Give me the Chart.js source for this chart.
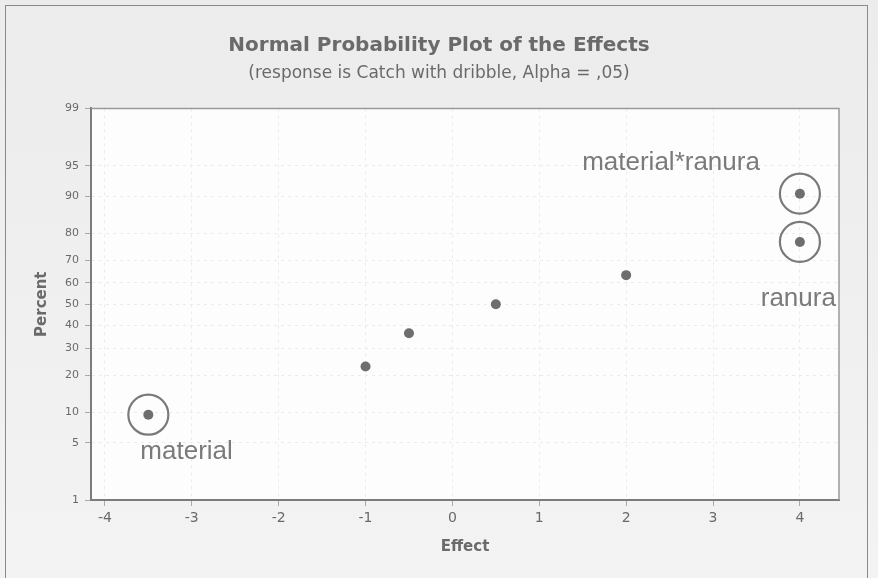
<!DOCTYPE html>
<html>
<head>
<meta charset="utf-8">
<script src="https://cdn.jsdelivr.net/npm/chart.js@4.4.1/dist/chart.umd.min.js"></script>
<style>
    html, body { margin: 0; padding: 0; background: #eeeeee; }
    #wrap { position: relative; width: 878px; height: 578px; }
    #frame { position: absolute; left: 5px; top: 5px; width: 861px; height: 580px; border: 1px solid #8a8a8a; pointer-events: none; }
</style>
</head>
<body>
<div id="wrap">
    <canvas id="chart" width="878" height="578"></canvas>
    <div id="frame"></div>
</div>
<script>
// Effects and their plotted percent (normal scores)
const effectNames   = ['material', '', '', '', '', 'ranura', 'material*ranura'];
const effectValues  = [-3.5, -1.0, -0.5, 0.5, 2.0, 4.0, 4.0];
const percentValues = [9.46, 22.97, 36.49, 50.0, 63.51, 77.03, 90.54];
const significant   = [true, false, false, false, false, true, true];

// Axis ticks
const xTicks = [-4, -3, -2, -1, 0, 1, 2, 3, 4];
const yTicks = [1, 5, 10, 20, 30, 40, 50, 60, 70, 80, 90, 95, 99];

const GRAY_TEXT = '#6a6a6a';
const DOT_COLOR = '#6e6e6e';
const FONT = '"DejaVu Sans", Verdana, sans-serif';

// Inverse standard normal CDF (Acklam)
function probit(p) {
    const a = [-39.6968302866538, 220.946098424521, -275.928510446969, 138.357751867269, -30.6647980661472, 2.50662827745924];
    const b = [-54.4760987982241, 161.585836858041, -155.698979859887, 66.8013118877197, -13.2806815528857];
    const c = [-0.00778489400243029, -0.322396458041136, -2.40075827716184, -2.54973253934373, 4.37466414146497, 2.93816398269878];
    const d = [0.00778469570904146, 0.32246712907004, 2.445134137143, 3.75440866190742];
    const pl = 0.02425;
    let q, r;
    if (p < pl) {
        q = Math.sqrt(-2 * Math.log(p));
        return (((((c[0]*q+c[1])*q+c[2])*q+c[3])*q+c[4])*q+c[5]) / ((((d[0]*q+d[1])*q+d[2])*q+d[3])*q+1);
    }
    if (p > 1 - pl) {
        q = Math.sqrt(-2 * Math.log(1 - p));
        return -(((((c[0]*q+c[1])*q+c[2])*q+c[3])*q+c[4])*q+c[5]) / ((((d[0]*q+d[1])*q+d[2])*q+d[3])*q+1);
    }
    q = p - 0.5;
    r = q * q;
    return (((((a[0]*r+a[1])*r+a[2])*r+a[3])*r+a[4])*r+a[5])*q / (((((b[0]*r+b[1])*r+b[2])*r+b[3])*r+b[4])*r+1);
}

const points = effectValues.map((x, i) => ({ x, y: probit(percentValues[i] / 100), name: effectNames[i] }));
const marked = points.filter((_, i) => significant[i]);

// label placement relative to the circled point: [dx, dy, align]
const labelOffsets = {
    'material':        [-8, 37, 'left'],
    'ranura':          [36, 57, 'right'],
    'material*ranura': [-40, -31, 'right'],
};

// Background, plot frame and effect labels
const decorPlugin = {
    id: 'decor',
    beforeDraw(chart) {
        const { ctx, chartArea: a } = chart;
        ctx.save();
        const g = ctx.createLinearGradient(0, 0, 0, chart.height);
        g.addColorStop(0, '#ececec');
        g.addColorStop(1, '#f3f3f3');
        ctx.fillStyle = g;
        ctx.fillRect(0, 0, chart.width, chart.height);
        ctx.fillStyle = '#fdfdfd';
        ctx.fillRect(a.left, a.top, a.right - a.left, a.bottom - a.top);
        ctx.restore();
    },
    afterDatasetsDraw(chart) {
        const { ctx, chartArea: a, scales } = chart;
        ctx.save();
        ctx.strokeStyle = '#9a9a9a';
        ctx.lineWidth = 1.5;
        ctx.beginPath();
        ctx.moveTo(a.left, a.top);
        ctx.lineTo(a.right, a.top);
        ctx.lineTo(a.right, a.bottom);
        ctx.stroke();
        ctx.font = '26px "Liberation Sans", Arial, sans-serif';
        ctx.fillStyle = '#7a7a7a';
        ctx.textBaseline = 'middle';
        marked.forEach(p => {
            const off = labelOffsets[p.name];
            if (!off) return;
            const px = scales.x.getPixelForValue(p.x);
            const py = scales.y.getPixelForValue(p.y);
            ctx.textAlign = off[2];
            ctx.fillText(p.name, px + off[0], py + off[1]);
        });
        ctx.restore();
    },
};

const yLimit = probit(0.99);

new Chart(document.getElementById('chart'), {
    type: 'scatter',
    data: {
        datasets: [
            {
                label: 'Effects',
                data: points,
                backgroundColor: DOT_COLOR,
                borderColor: DOT_COLOR,
                pointRadius: 5,
                borderWidth: 0,
            },
            {
                label: 'Significant',
                data: marked,
                backgroundColor: 'rgba(0,0,0,0)',
                borderColor: '#7a7a7a',
                borderWidth: 2.2,
                pointRadius: 20,
            },
        ],
    },
    options: {
        responsive: false,
        animation: false,
        layout: { padding: 0 },
        plugins: {
            legend: { display: false },
            tooltip: { enabled: false },
            title: {
                display: true,
                text: 'Normal Probability Plot of the Effects',
                color: '#6a6a6a',
                font: { family: FONT, size: 20, weight: 'bold' },
                padding: { top: 34, bottom: 5 },
            },
            subtitle: {
                display: true,
                text: '(response is Catch with dribble, Alpha = ,05)',
                color: '#6a6a6a',
                font: { family: FONT, size: 17 },
                padding: { top: 0, bottom: 25 },
            },
        },
        scales: {
            x: {
                type: 'linear',
                min: -4.16,
                max: 4.45,
                afterBuildTicks: (scale) => { scale.ticks = xTicks.map(v => ({ value: v })); },
                afterFit: (scale) => { scale.height = 78; },
                ticks: {
                    color: GRAY_TEXT,
                    font: { family: FONT, size: 14 },
                    padding: 4,
                },
                grid: {
                    color: '#ebebeb',
                    tickColor: '#aaaaaa',
                    tickLength: 6,
                },
                border: { display: true, color: '#7c7c7c', width: 2, dash: [3, 4] },
                title: {
                    display: true,
                    text: 'Effect',
                    color: GRAY_TEXT,
                    font: { family: FONT, size: 15, weight: 'bold' },
                    padding: { top: 0, bottom: 22 },
                },
            },
            y: {
                type: 'linear',
                min: -yLimit,
                max: yLimit,
                afterBuildTicks: (scale) => { scale.ticks = yTicks.map(p => ({ value: probit(p / 100) })); },
                afterFit: (scale) => { scale.width = 91; },
                ticks: {
                    color: GRAY_TEXT,
                    font: { family: FONT, size: 11 },
                    padding: 6,
                    callback: (value, index) => yTicks[index],
                },
                grid: {
                    color: '#ebebeb',
                    tickColor: '#aaaaaa',
                    tickLength: 6,
                },
                border: { display: true, color: '#7c7c7c', width: 2, dash: [3, 4] },
                title: {
                    display: true,
                    text: 'Percent',
                    color: GRAY_TEXT,
                    font: { family: FONT, size: 15, weight: 'bold' },
                    padding: { top: 33 },
                },
            },
            // empty right-hand axis keeps the plot's right margin while titles center on the page
            yRight: {
                type: 'linear',
                position: 'right',
                min: -yLimit,
                max: yLimit,
                afterFit: (scale) => { scale.width = 39; },
                ticks: { display: false },
                grid: { display: false },
                border: { display: false },
            },
        },
    },
    plugins: [decorPlugin],
});
</script>
</body>
</html>
